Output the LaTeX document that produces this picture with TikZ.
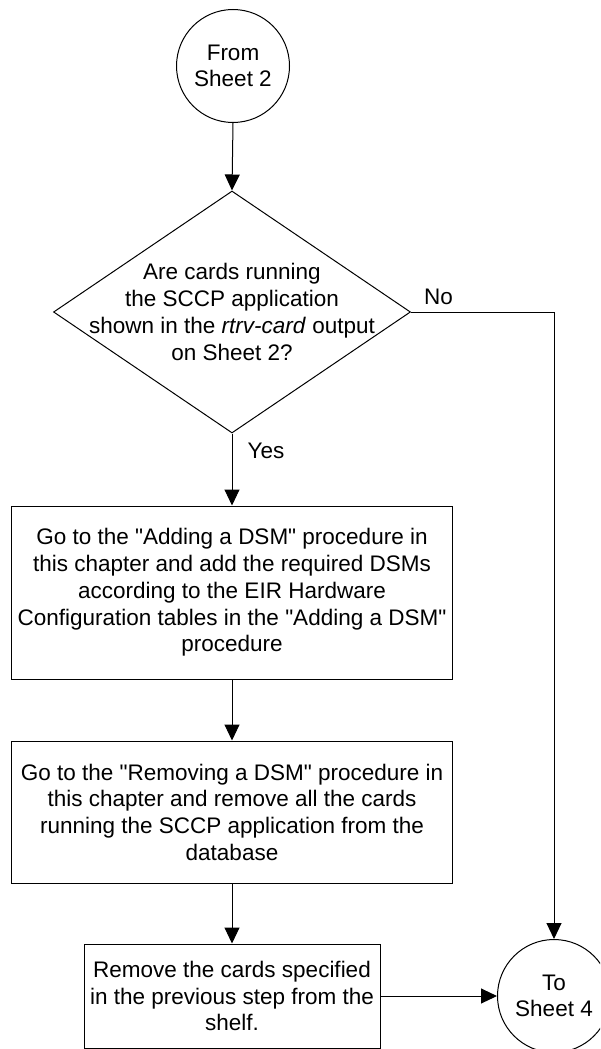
\documentclass[tikz,border=0pt]{standalone}
\usepackage{fontspec}
\setmainfont{Liberation Sans}[Ligatures=TeXOff]
\usetikzlibrary{arrows.meta,shapes.geometric}
\begin{document}
\begin{tikzpicture}[x=1pt,y=-1pt,
  every node/.style={font=\fontsize{22.5}{26.7}\selectfont, align=center, inner sep=0pt},
  box/.style={draw, line width=1pt, rectangle, inner sep=0pt},
  term/.style={draw, line width=1pt, circle, inner sep=0pt, minimum size=113pt},
  decide/.style={draw, line width=1pt, diamond, inner sep=0pt, minimum width=357pt, minimum height=242pt},
  arr/.style={-{Triangle[length=16pt,width=15pt]}, line width=1pt},
  lbl/.style={font=\fontsize{22.5}{26.7}\selectfont}]
\useasboundingbox (0,0) rectangle (600,1049);
\clip (0,0) rectangle (600,1049);
\node[term] (c1) at (233,66) {From\\Sheet 2};
\node[decide] (d) at (232,312) {};
\node (dt) at (232,312) {Are cards running\\the SCCP application\\shown in the \textit{rtrv-card} output\\on Sheet 2?};
\node[box, minimum width=441pt, minimum height=173pt] (b1) at (232,592.5) {Go to the "Adding a DSM" procedure in\\this chapter and add the required DSMs\\according to the EIR Hardware\\Configuration tables in the "Adding a DSM"\\procedure};
\node[box, minimum width=441pt, minimum height=142pt] (b2) at (232,812) {Go to the "Removing a DSM" procedure in\\this chapter and remove all the cards\\running the SCCP application from the\\database};
\node[box, minimum width=296pt, minimum height=104pt] (b3) at (232,996) {Remove the cards specified\\in the previous step from the\\shelf.};
\node[term] (c2) at (554,996) {To\\Sheet 4};
\node[lbl] (no) at (438.5,297) {No};
\node[lbl] (yes) at (266,451) {Yes};
\draw[arr] (c1.south) -- (d.north);
\draw[arr] (d.east) -| (c2.north);
\draw[arr] (d.south) -- (b1.north);
\draw[arr] (b1.south) -- (b2.north);
\draw[arr] (b2.south) -- (b3.north);
\draw[arr] (b3.east) -- (c2.west);
\end{tikzpicture}
\end{document}
